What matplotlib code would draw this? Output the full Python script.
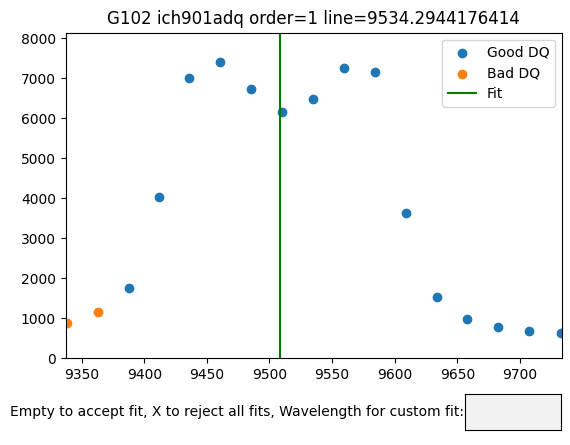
import matplotlib
matplotlib.use("Agg")
import matplotlib.pyplot as plt
from matplotlib.widgets import TextBox
import numpy as np

# wavelength / flux
good_wave = [9387.5, 9411.4, 9436.1, 9460.8, 9485.5, 9510.2, 9535.0, 9559.7,
             9584.4, 9609.1, 9633.8, 9657.9, 9682.6, 9707.3, 9732.3]
good_flux = [1750, 4025, 7010, 7400, 6730, 6160, 6490, 7260,
             7160, 3640, 1520, 970, 770, 670, 620]
bad_wave = [9338.4, 9362.8]
bad_flux = [875, 1150]
fit_wave = 9508.2
xlim = (9337.2, 9733.5)

title = "G102 ich901adq order=1 line=9534.2944176414"

fig = plt.figure(figsize=(5.7, 4.45), dpi=100)
ax = fig.add_axes([0.115, 0.195, 0.871, 0.7315])

ax.scatter(good_wave, good_flux, label="Good DQ")
ax.scatter(bad_wave, bad_flux, label="Bad DQ")
ax.axvline(fit_wave, color="green", label="Fit")

all_flux = np.concatenate([good_flux, bad_flux])
ax.set_xlim(*xlim)
ax.set_ylim(0, all_flux.max() * 1.1)
ax.set_title(title)
ax.legend(loc="upper right")

# 输入框
box_ax = fig.add_axes([0.816, 0.034, 0.168, 0.081])
text_box = TextBox(box_ax, "Empty to accept fit, X to reject all fits, Wavelength for custom fit:")

fig.savefig("out.png", dpi=100)
